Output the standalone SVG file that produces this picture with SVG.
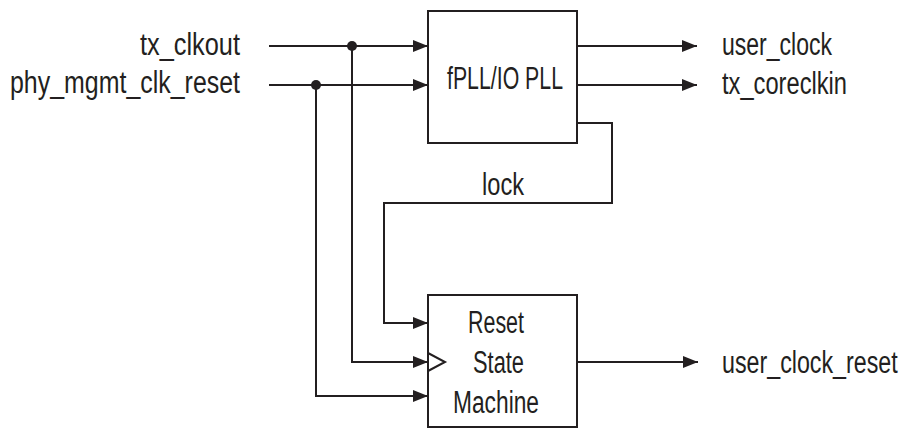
<svg xmlns="http://www.w3.org/2000/svg" width="906" height="429" viewBox="0 0 906 429">
<style>
text{font-family:"Liberation Sans",Arial,sans-serif;font-size:31px;fill:#231f20}
.box{fill:#fff;stroke:#231f20;stroke-width:2}
.wire{fill:none;stroke:#231f20;stroke-width:2}
.dot{fill:#231f20}
</style>
<defs>
<marker id="arr" markerUnits="userSpaceOnUse" markerWidth="15" markerHeight="12" viewBox="0 0 15 12" refX="15" refY="6" orient="auto">
<path d="M0,0 L15,6 L0,12 z" fill="#231f20"/>
</marker>
</defs>
<rect width="906" height="429" fill="#fff"/>
<g id="connectors">
<path class="wire" d="M269,46 H428" marker-end="url(#arr)"/>
<path class="wire" d="M269,85 H428" marker-end="url(#arr)"/>
<path class="wire" d="M352,46 V362 H428" marker-end="url(#arr)"/>
<path class="wire" d="M316,85 V396 H428" marker-end="url(#arr)"/>
<path class="wire" d="M577,123 H612 V203 H384 V323 H428" marker-end="url(#arr)"/>
<path class="wire" d="M577,46 H697" marker-end="url(#arr)"/>
<path class="wire" d="M577,85 H697" marker-end="url(#arr)"/>
<path class="wire" d="M577,362 H698" marker-end="url(#arr)"/>
<circle class="dot" cx="352" cy="46" r="5"/>
<circle class="dot" cx="316" cy="85" r="5"/>
<text x="482" y="195" textLength="42" lengthAdjust="spacingAndGlyphs">lock</text>
</g>
<g id="in_tx_clkout"><text x="140" y="55" textLength="100" lengthAdjust="spacingAndGlyphs">tx_clkout</text></g>
<g id="in_phy_mgmt_clk_reset"><text x="10" y="93" textLength="230" lengthAdjust="spacingAndGlyphs">phy_mgmt_clk_reset</text></g>
<g id="pll">
<rect class="box" x="428" y="11" width="149" height="132"/>
<text x="447" y="89" textLength="116" lengthAdjust="spacingAndGlyphs">fPLL/IO PLL</text>
</g>
<g id="out_user_clock"><text x="722" y="55" textLength="110" lengthAdjust="spacingAndGlyphs">user_clock</text></g>
<g id="out_tx_coreclkin"><text x="722" y="94" textLength="125" lengthAdjust="spacingAndGlyphs">tx_coreclkin</text></g>
<g id="rsm">
<rect class="box" x="428" y="295" width="149" height="132"/>
<path class="wire" d="M428,353 L445,362 L428,371" fill="#fff"/>
<text x="468" y="333" textLength="56" lengthAdjust="spacingAndGlyphs">Reset</text>
<text x="473" y="373" textLength="51" lengthAdjust="spacingAndGlyphs">State</text>
<text x="453" y="413" textLength="86" lengthAdjust="spacingAndGlyphs">Machine</text>
</g>
<g id="out_user_clock_reset"><text transform="translate(722,373) scale(0.75,1)" x="0" y="0">user_clock_reset</text></g>
</svg>
